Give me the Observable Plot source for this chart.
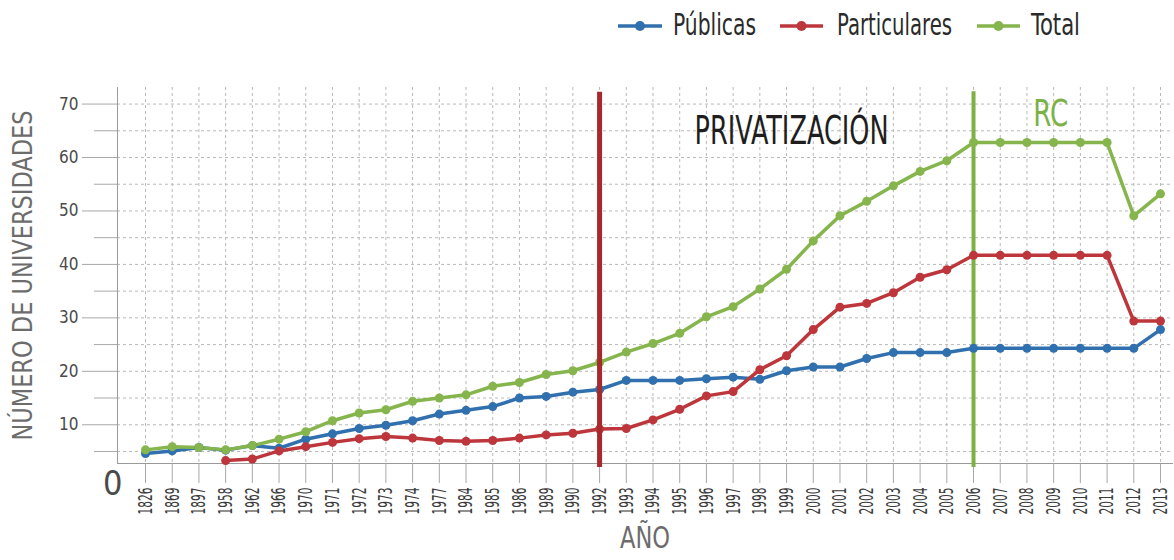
<!DOCTYPE html>
<html>
<head>
<meta charset="utf-8">
<script src="https://cdn.jsdelivr.net/npm/d3@7"></script>
<script src="https://cdn.jsdelivr.net/npm/@observablehq/plot@0.6"></script>
<style>
  body { margin: 0; background: #fff; }
  #wrap { position: relative; width: 1174px; height: 560px; overflow: hidden; }
  #legend { position: absolute; left: 0; top: 0; }
</style>
</head>
<body>
<div id="wrap"></div>
<script>
// ---- data ----
const years = ["1826","1869","1897","1958","1962","1966","1970","1971","1972","1973","1974","1977","1984","1985","1986","1989","1990","1992","1993","1994","1995","1996","1997","1998","1999","2000","2001","2002","2003","2004","2005","2006","2007","2008","2009","2010","2011","2012","2013"];

const publicas = [4.6, 5.1, 5.75, 5.25, 6.1, 5.6, 7.3, 8.3, 9.3, 9.9, 10.75, 12.0, 12.7, 13.4, 15.0, 15.3, 16.1, 16.6,
  18.3, 18.3, 18.3, 18.6, 18.9, 18.5, 20.1, 20.8, 20.8, 22.4, 23.5, 23.5, 23.5, 24.3, 24.3, 24.3, 24.3, 24.3, 24.3, 24.3, 27.8];

const particulares = [null, null, null, 3.3, 3.6, 5.1, 5.9, 6.7, 7.4, 7.8, 7.5, 7.05, 6.9, 7.05, 7.5, 8.1, 8.4, 9.2,
  9.3, 10.9, 12.9, 15.4, 16.2, 20.3, 22.9, 27.8, 32.0, 32.7, 34.7, 37.6, 39.0, 41.7, 41.7, 41.7, 41.7, 41.7, 41.7, 29.4, 29.4];

const total = [5.3, 5.9, 5.75, 5.3, 6.1, 7.3, 8.7, 10.75, 12.2, 12.8, 14.4, 15.0, 15.6, 17.2, 17.9, 19.4, 20.1, 21.65,
  23.6, 25.2, 27.1, 30.2, 32.1, 35.4, 39.1, 44.4, 49.1, 51.8, 54.7, 57.4, 59.4, 62.8, 62.8, 62.8, 62.8, 62.8, 62.8, 49.1, 53.2];

const seriesNames = ["Públicas", "Particulares", "Total"];
const seriesColors = ["#3170ae", "#bd363c", "#85b54c"];

const yTicksMajor = [10, 20, 30, 40, 50, 60, 70];
const yTicksMinor = [5, 15, 25, 35, 45, 55, 65];
const yGrid = [5, 10, 15, 20, 25, 30, 35, 40, 45, 50, 55, 60, 65, 70];

const eventYears = ["1992", "2006"];
const eventColors = ["#a62a2b", "#7cb145"];
const annotations = [
  {year: "1999", value: 64.9, text: "PRIVATIZACIÓN", color: "#1e1e1e", size: 39, shift: 5},
  {year: "2009", value: 68.1, text: "RC", color: "#7cb145", size: 37, shift: -3}
];

// ---- table for the library (x = position of the year in the category list) ----
const idx = y => years.indexOf(y);
const rows = [];
[publicas, particulares, total].forEach((arr, k) => {
  arr.forEach((v, i) => { if (v != null) rows.push({pos: i, year: years[i], value: v, series: seriesNames[k]}); });
});
const positions = years.map((y, i) => i);

const FONT = "'Liberation Sans Narrow','DejaVu Sans Condensed','Liberation Sans',sans-serif";

const chart = Plot.plot({
  width: 1174,
  height: 560,
  marginLeft: 117,
  marginRight: 2,
  marginTop: 87,
  marginBottom: 97,
  style: {fontFamily: FONT, background: "#fff", overflow: "visible"},
  x: {type: "linear", domain: [0, years.length - 1], range: [145, 1160]},
  y: {domain: [2.75, 73.1]},
  color: {domain: seriesNames, range: seriesColors},
  marks: [
    Plot.gridY(yGrid, {stroke: "#b9b9b9", strokeOpacity: 1, strokeDasharray: "3,3"}),
    Plot.gridX(positions, {stroke: "#b9b9b9", strokeOpacity: 1, strokeDasharray: "3,3"}),
    Plot.axisY(yTicksMinor, {tickSize: 23, text: null, stroke: "#a8a8a8", label: null}),
    Plot.axisY(yTicksMajor, {tickSize: 35, tickPadding: 4, stroke: "#a8a8a8", fill: "#4a4a4a", fontSize: 17, label: null}),
    Plot.axisX(positions, {tickSize: 20, tickPadding: 4, tickRotate: -90, tickFormat: i => years[i],
      stroke: "#a8a8a8", fill: "#3a3a3a", fontSize: 20, label: null}),
    Plot.frame({anchor: "left", stroke: "#9a9a9a"}),
    Plot.frame({anchor: "bottom", stroke: "#9a9a9a"}),
    Plot.line(rows, {x: "pos", y: "value", z: "series", stroke: "series", strokeWidth: 3.5}),
    Plot.ruleX([idx(eventYears[1])], {y1: 2.0, y2: 72.3, stroke: eventColors[1], strokeWidth: 4}),
    Plot.dot(rows, {x: "pos", y: "value", fill: "series", r: 4.5}),
    Plot.ruleX([idx(eventYears[0])], {y1: 2.0, y2: 72.2, stroke: eventColors[0], strokeWidth: 5}),
    Plot.text(annotations.slice(0, 1), {x: d => idx(d.year), y: "value", text: "text", fill: "color", fontSize: d => d.size, dx: 5}),
    Plot.text(annotations.slice(1), {x: d => idx(d.year), y: "value", text: "text", fill: "color", fontSize: d => d.size, dx: -3}),
    Plot.text(["NÚMERO DE UNIVERSIDADES"], {text: d => d, frameAnchor: "bottom-left", textAnchor: "start",
      dx: -86, dy: -23, rotate: -90, fontSize: 27, fill: "#6c6c6c"}),
    Plot.text(["AÑO"], {text: d => d, frameAnchor: "bottom", dy: 84, fontSize: 30, fill: "#6c6c6c"}),
    Plot.text(["0"], {text: d => d, frameAnchor: "bottom-left", textAnchor: "end", dx: 5, dy: 31, fontSize: 34, fill: "#4a4a4a"})
  ]
});

// condensed lettering as in the reference
const lengths = {"PRIVATIZACIÓN": 194, "RC": 35, "NÚMERO DE UNIVERSIDADES": 330, "AÑO": 50};
d3.select(chart).selectAll("text").each(function () {
  const t = this.textContent;
  const s = d3.select(this);
  if (years.includes(t)) s.attr("textLength", 27).attr("lengthAdjust", "spacingAndGlyphs");
  else if (lengths[t]) s.attr("textLength", lengths[t]).attr("lengthAdjust", "spacingAndGlyphs");
});

const wrap = document.getElementById("wrap");
wrap.appendChild(chart);

// legend above the chart
const legendItems = [
  {name: seriesNames[0], color: seriesColors[0], x1: 618, x2: 662, tx: 673, tl: 83},
  {name: seriesNames[1], color: seriesColors[1], x1: 780, x2: 823, tx: 837, tl: 115},
  {name: seriesNames[2], color: seriesColors[2], x1: 977, x2: 1020, tx: 1031, tl: 49}
];
const legend = d3.create("svg").attr("id", "legend").attr("width", 1174).attr("height", 50)
  .style("font-family", FONT);
const g = legend.selectAll("g").data(legendItems).join("g");
g.append("line").attr("x1", d => d.x1).attr("x2", d => d.x2).attr("y1", 26).attr("y2", 26)
  .attr("stroke", d => d.color).attr("stroke-width", 3.5);
g.append("circle").attr("cx", d => (d.x1 + d.x2) / 2).attr("cy", 26).attr("r", 5).attr("fill", d => d.color);
g.append("text").attr("x", d => d.tx).attr("y", 35).attr("font-size", 30).attr("fill", "#2a2a2a")
  .attr("textLength", d => d.tl).attr("lengthAdjust", "spacingAndGlyphs").text(d => d.name);
wrap.appendChild(legend.node());
</script>
</body>
</html>
